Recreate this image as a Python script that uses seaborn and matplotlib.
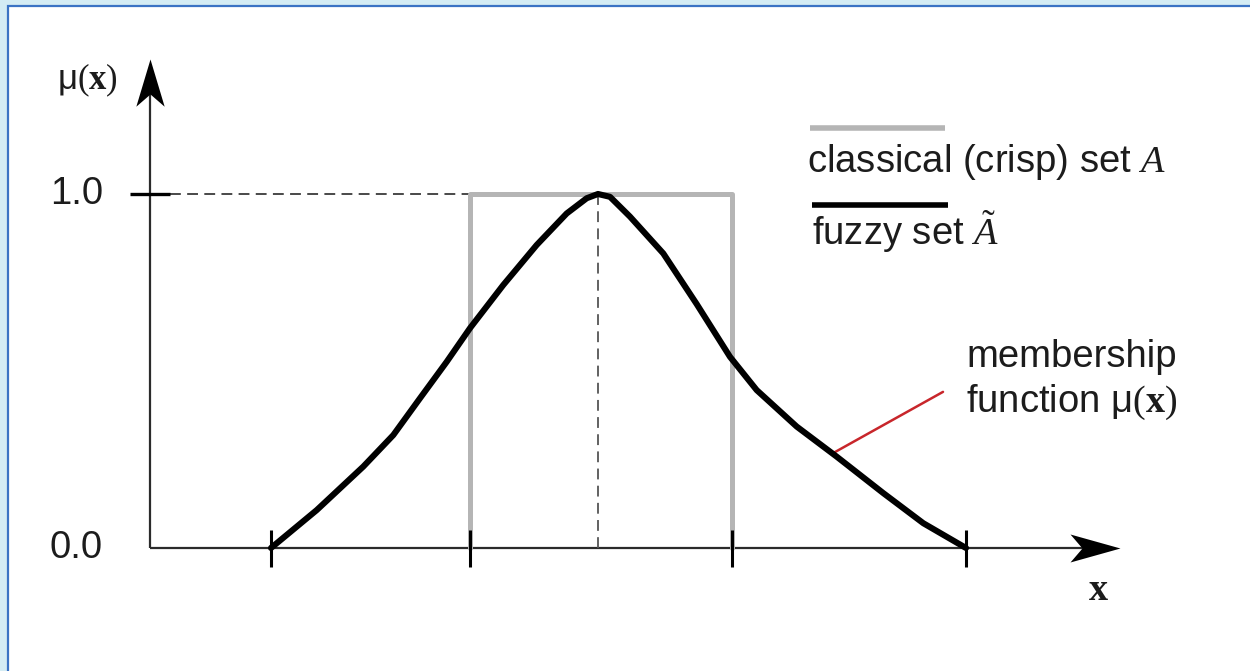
import matplotlib
matplotlib.use("Agg")
import matplotlib.pyplot as plt
from matplotlib.path import Path
from matplotlib.patches import Rectangle
import seaborn as sns
import pandas as pd

# Fuzzy membership curve (x, mu)
fuzzy_x = [1.21, 1.667, 2.133, 2.433, 2.70, 2.967, 3.20, 3.533, 3.867, 4.167, 4.367, 4.48,
           4.60, 4.80, 5.133, 5.467, 5.80, 6.067, 6.467, 6.867, 7.333, 7.733, 8.16]
fuzzy_mu = [0.0, 0.107, 0.230, 0.319, 0.423, 0.526, 0.621, 0.743, 0.856, 0.945, 0.988, 1.0,
            0.992, 0.936, 0.832, 0.689, 0.540, 0.446, 0.343, 0.258, 0.155, 0.070, 0.0]

# Classical (crisp) set: rectangle between two bounds
crisp_x = [3.20, 3.20, 5.82, 5.82]
crisp_mu = [0.0, 1.0, 1.0, 0.0]

# Marked positions on the x axis and the peak
tick_x = [1.21, 3.20, 5.82, 8.16]
peak_x = 4.48
y_ticks = [0.0, 1.0]
y_tick_labels = ["0.0", "1.0"]
x_axis_end = 9.70
y_axis_end = 1.38

sns.set_style("white")
plt.rcParams["font.family"] = ["Liberation Sans", "DejaVu Sans"]
plt.rcParams["mathtext.fontset"] = "custom"
plt.rcParams["mathtext.rm"] = "Liberation Serif"
plt.rcParams["mathtext.it"] = "Liberation Serif:italic"
plt.rcParams["mathtext.bf"] = "Liberation Serif:bold"

fig = plt.figure(figsize=(12.5, 6.71), dpi=100)
fig.patch.set_facecolor("#d4ecf4")

# white panel with blue frame
panel = Rectangle((8 / 1250, -0.05), 1.1, 1 - 6 / 671 + 0.05, transform=fig.transFigure,
                  facecolor="white", edgecolor="#3b73c4", linewidth=1.6, zorder=-1)
fig.patches.append(panel)

ax = fig.add_axes([0, 0, 1, 1])
ax.set_zorder(1)
ax.set_xlim(-1.5, 11.0)
ax.set_ylim(-0.3475, 1.548)
ax.axis("off")
ax.patch.set_alpha(0)

axis_color = "#2b2b2b"
text_color = "#1c1c1c"
fs = 27.5

# axes lines
ax.plot([0, x_axis_end - 0.3], [0, 0], color=axis_color, lw=1.6, solid_capstyle="butt", zorder=2)
ax.plot([0, 0], [0, y_axis_end - 0.08], color=axis_color, lw=1.6, solid_capstyle="butt", zorder=2)

# stealth arrow heads
head = Path([(0, 0), (-1.0, 0.28), (-0.76, 0), (-1.0, -0.28), (0, 0)],
            [Path.MOVETO, Path.LINETO, Path.LINETO, Path.LINETO, Path.CLOSEPOLY])
head_up = Path([(0, 0), (0.30, -1.0), (0, -0.74), (-0.30, -1.0), (0, 0)],
               [Path.MOVETO, Path.LINETO, Path.LINETO, Path.LINETO, Path.CLOSEPOLY])
ax.plot([x_axis_end], [0], marker=head, markersize=72, color="black", mew=0, zorder=3)
ax.plot([0], [y_axis_end], marker=head_up, markersize=68, color="black", mew=0, zorder=3)

# crisp set
crisp = pd.DataFrame({"x": crisp_x, "mu": crisp_mu})
sns.lineplot(data=crisp, x="x", y="mu", sort=False, estimator=None, color="#b5b5b5",
             lw=3.6, ax=ax, zorder=3)

# dashed guides to the peak
ax.plot([0.2, peak_x], [1.0, 1.0], color="#3a3a3a", lw=1.3, dashes=(6, 3.5), zorder=2)
ax.plot([peak_x, peak_x], [0, 1.0], color="#555555", lw=1.3, dashes=(6, 3.5), zorder=2)
ax.plot([-0.2, 0.2], [1.0, 1.0], color="black", lw=2.4, solid_capstyle="butt", zorder=3)

# fuzzy set
fuzzy = pd.DataFrame({"x": fuzzy_x, "mu": fuzzy_mu})
sns.lineplot(data=fuzzy, x="x", y="mu", sort=False, estimator=None, color="black",
             lw=4.4, solid_joinstyle="round", solid_capstyle="round", ax=ax, zorder=4)

# ticks on x axis
for tx in tick_x:
    ax.plot([tx, tx], [-0.054, 0.05], color="black", lw=2.2, solid_capstyle="butt", zorder=5)

# y labels
for yv, lab in zip(y_ticks, y_tick_labels):
    ax.text(-0.47, yv, lab, ha="right", va="center", fontsize=fs, color=text_color)

ax.text(-0.93, 1.322, r"μ$(\mathbf{x})$", ha="left", va="center", fontsize=25, color=text_color)
ax.text(9.48, -0.119, r"$\mathbf{x}$", ha="center", va="center", fontsize=fs, color=text_color)

# legend
ax.plot([6.60, 7.95], [1.186, 1.186], color="#b5b5b5", lw=4.0, solid_capstyle="butt")
ax.text(6.57, 1.09, r"classical (crisp) set $A$", ha="left", va="center", fontsize=fs, color=text_color)
ax.plot([6.62, 7.98], [0.969, 0.969], color="black", lw=4.0, solid_capstyle="butt")
ax.text(6.62, 0.893, r"fuzzy set $\tilde{A}$", ha="left", va="center", fontsize=fs, color=text_color)

# annotation
ax.plot([6.85, 7.93], [0.271, 0.441], color="#c8262b", lw=1.8)
ax.text(8.16, 0.54, "membership", ha="left", va="center", fontsize=fs, color=text_color)
ax.text(8.16, 0.41, r"function μ$(\mathbf{x})$", ha="left", va="center", fontsize=fs, color=text_color)

fig.savefig("out.png", dpi=100, facecolor=fig.get_facecolor())
